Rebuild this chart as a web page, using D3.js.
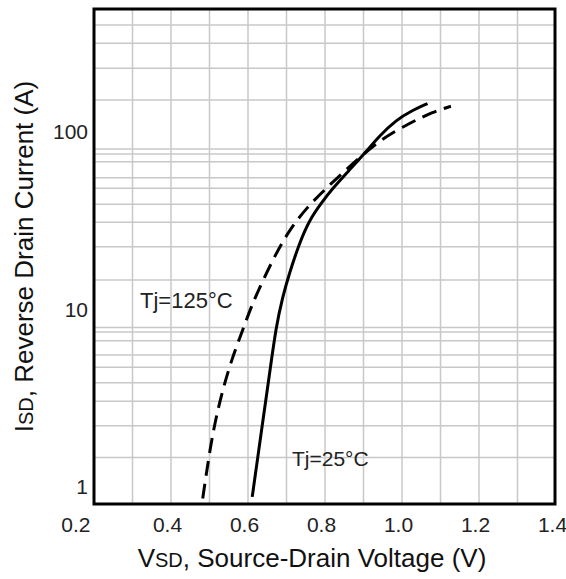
<!DOCTYPE html>
<html>
<head>
<meta charset="utf-8">
<script src="https://cdn.jsdelivr.net/npm/d3@7"></script>
<style>
  html, body { margin: 0; padding: 0; background: #fff; }
  svg { display: block; font-family: "Liberation Sans", Arial, sans-serif; }
</style>
</head>
<body>
<svg id="chart" width="566" height="579"></svg>
<script>
// Axis ticks
const xTicks = [0.2, 0.4, 0.6, 0.8, 1.0, 1.2, 1.4];
const yTicks = [1, 10, 100];
// Grid lines (V and A)
const xGrid = [0.3, 0.4, 0.5, 0.6, 0.7, 0.8, 0.9, 1.0, 1.1, 1.2, 1.3];
const yGrid = [1.465, 2.21, 3.04, 3.86, 4.72, 5.53, 6.66, 7.46, 7.91,
               14.65, 22.6, 31.0, 39.2, 48.2, 55.3, 68.1, 75.2, 80.3,
               151.7, 229, 317, 402];
// Tj = 25 °C
const vsd25 = [0.611, 0.634, 0.6573, 0.6729, 0.69, 0.7074, 0.7333, 0.7593, 0.7897,
               0.8198, 0.8631, 0.9065, 0.941, 0.9843, 1.0274, 1.0663];
const isd25 = [0.878, 2.0, 4.55, 7.99, 11.8, 16.0, 23.6, 31.9, 39.7,
               48.2, 61.1, 77.5, 95.1, 117, 133, 145];
// Tj = 125 °C
const vsd125 = [0.4824, 0.5083, 0.5387, 0.5602, 0.5862, 0.608, 0.6381, 0.6729,
                0.7074, 0.7507, 0.8068, 0.8631, 0.941, 1.0188, 1.0793, 1.1271];
const isd125 = [0.86, 2.09, 3.83, 5.41, 7.65, 10.36, 14.5, 20.7,
                28.0, 37.2, 49.2, 63.8, 90.3, 112, 130, 140];

const svg = d3.select("#chart");
const plotL = 94, plotR = 556, plotT = 9, plotB = 504;

const x = d3.scaleLinear().domain([0.2, 1.4]).range([plotL, plotR]);
const y = d3.scaleLog().domain([0.8, 495]).range([plotB, plotT]);

// grid
const grid = svg.append("g").attr("stroke", "#c8c8c8").attr("stroke-width", 1.5);
grid.selectAll("line.v").data(xGrid).join("line").attr("class", "v")
  .attr("x1", d => x(d)).attr("x2", d => x(d))
  .attr("y1", plotT).attr("y2", plotB);
grid.selectAll("line.h").data(yGrid).join("line").attr("class", "h")
  .attr("x1", plotL).attr("x2", plotR)
  .attr("y1", d => y(d)).attr("y2", d => y(d));

// curves
const line = d3.line().x(d => x(d[0])).y(d => y(d[1])).curve(d3.curveBasis);
svg.append("path")
  .datum(d3.zip(vsd25, isd25))
  .attr("d", line)
  .attr("fill", "none").attr("stroke", "#000").attr("stroke-width", 3)
  .attr("stroke-linejoin", "round");
svg.append("path")
  .datum(d3.zip(vsd125, isd125))
  .attr("d", line)
  .attr("fill", "none").attr("stroke", "#000").attr("stroke-width", 3)
  .attr("stroke-dasharray", "15,8");

// frame
svg.append("rect")
  .attr("x", plotL).attr("y", plotT)
  .attr("width", plotR - plotL - 1).attr("height", plotB - plotT)
  .attr("fill", "none").attr("stroke", "#000").attr("stroke-width", 3);

// axes (labels only)
const xAxis = d3.axisBottom(x).tickValues(xTicks).tickFormat(d3.format(".1f")).tickSize(0).tickPadding(13);
svg.append("g").attr("transform", `translate(-4,${plotB})`).call(xAxis)
  .call(g => g.select(".domain").remove())
  .call(g => g.selectAll("text").attr("font-size", 21).attr("fill", "#222").attr("font-family", null))
  .call(g => g.selectAll(".tick").filter(d => d === 0.2).select("text")
    .attr("text-anchor", "end").attr("dx", 0));

const yAxis = d3.axisLeft(y).tickValues(yTicks).tickFormat(d3.format("d")).tickSize(0).tickPadding(5);
svg.append("g").attr("transform", `translate(${plotL - 1},0)`).call(yAxis)
  .call(g => g.select(".domain").remove())
  .call(g => g.selectAll("text").attr("font-size", 21).attr("fill", "#222").attr("font-family", null));

// axis titles
const xt = svg.append("text").attr("x", 312).attr("y", 567)
  .attr("text-anchor", "middle").attr("font-size", 26).attr("fill", "#111");
xt.append("tspan").text("V");
xt.append("tspan").attr("font-size", 20).text("SD");
xt.append("tspan").text(", Source-Drain Voltage (V)");

const yt = svg.append("text")
  .attr("transform", `translate(33,${(plotT + plotB) / 2}) rotate(-90)`)
  .attr("text-anchor", "middle").attr("font-size", 26).attr("fill", "#111");
yt.append("tspan").text("I");
yt.append("tspan").attr("font-size", 20).text("SD");
yt.append("tspan").text(", Reverse Drain Current (A)");

// curve labels
svg.append("text").attr("x", 140).attr("y", 308).attr("font-size", 22).attr("fill", "#222").text("Tj=125°C");
svg.append("text").attr("x", 292).attr("y", 466).attr("font-size", 21).attr("fill", "#222").text("Tj=25°C");
</script>
</body>
</html>
